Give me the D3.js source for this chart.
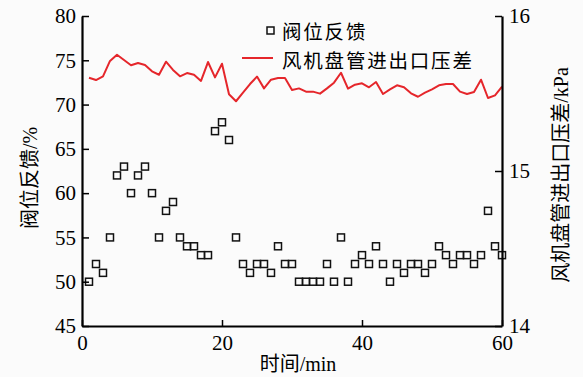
<!DOCTYPE html>
<html><head><meta charset="utf-8">
<script src="https://cdn.jsdelivr.net/npm/d3@7"></script>
<style>
html,body{margin:0;padding:0;background:#fbfbfb;}
svg{display:block;}
</style></head>
<body>
<svg id="c" width="583" height="377"></svg>
<script>
const minutes = d3.range(1, 61);
const valveFeedback = [50,52,51,55,62,63,60,62,63,60,55,58,59,55,54,54,53,53,67,68,66,55,52,51,52,52,51,54,52,52,
  50,50,50,50,52,50,55,50,52,53,52,54,52,50,52,51,52,52,51,52,54,53,52,53,53,52,53,58,54,53];
const pressureDiff = [15.602,15.587,15.611,15.710,15.750,15.716,15.682,15.697,15.684,15.643,15.621,15.705,15.652,15.611,15.632,15.621,15.581,15.703,15.604,15.692,
  15.495,15.450,15.505,15.561,15.609,15.533,15.589,15.600,15.600,15.523,15.533,15.512,15.512,15.499,15.533,15.570,15.634,15.531,15.557,15.566,
  15.540,15.574,15.497,15.527,15.553,15.540,15.501,15.479,15.505,15.527,15.553,15.561,15.561,15.512,15.497,15.510,15.589,15.471,15.488,15.544];
const xTicks = [0,20,40,60];
const yLeftTicks = [45,50,55,60,65,70,75,80];
const yRightTicks = [14,15,16];
const legendLabels = ["阀位反馈","风机盘管进出口压差"];

const svg = d3.select("#c");
const L = 82, R = 502, T = 16, B = 326;
const x = d3.scaleLinear().domain([0,60]).range([L,R]);
const yL = d3.scaleLinear().domain([45,80]).range([B,T]);
const yR = d3.scaleLinear().domain([14,16]).range([B,T]);
const numFont = "'Liberation Serif','Times New Roman',serif";
const cjkFont = "'Liberation Serif','Noto Sans CJK SC',serif";

// line
svg.append("path")
  .datum(minutes.map((m,i)=>[m,pressureDiff[i]]))
  .attr("fill","none").attr("stroke","#e5262b").attr("stroke-width",2)
  .attr("stroke-linejoin","round")
  .attr("d", d3.line().x(d=>x(d[0])).y(d=>yR(d[1])));

// squares
svg.append("g").selectAll("rect").data(minutes.map((m,i)=>[m,valveFeedback[i]])).join("rect")
  .attr("x",d=>x(d[0])-3.5).attr("y",d=>yL(d[1])-3.5)
  .attr("width",7).attr("height",7)
  .attr("fill","none").attr("stroke","#111").attr("stroke-width",1.5);

function style(g){
  g.select(".domain").attr("stroke","#000").attr("stroke-width",2.2);
  g.selectAll(".tick line").attr("stroke","#000").attr("stroke-width",1.5);
  g.selectAll(".tick text").attr("font-family",numFont).attr("font-size",21).attr("fill","#000");
}
// axes
const gx = svg.append("g").attr("transform",`translate(0,${B})`)
  .call(d3.axisBottom(x).tickValues(xTicks).tickSizeInner(-6).tickSizeOuter(0).tickPadding(9).tickFormat(d3.format("d")));
style(gx);
const gl = svg.append("g").attr("transform",`translate(${L},0)`)
  .call(d3.axisLeft(yL).tickValues(yLeftTicks).tickSizeInner(-7).tickSizeOuter(0).tickPadding(6).tickFormat(d3.format("d")));
style(gl);
const gr = svg.append("g").attr("transform",`translate(${R},0)`)
  .call(d3.axisRight(yR).tickValues(yRightTicks).tickSizeInner(-7).tickSizeOuter(0).tickPadding(7).tickFormat(d3.format("d")));
style(gr);

// axis titles
svg.append("text").attr("x",298).attr("y",371).attr("text-anchor","middle")
  .attr("font-family",cjkFont).attr("font-size",20).attr("fill","#000").text("时间/min");
svg.append("text").attr("transform","translate(30,178) rotate(-90)").attr("text-anchor","middle")
  .attr("dominant-baseline","central")
  .attr("font-family",cjkFont).attr("font-size",20).attr("fill","#000").text("阀位反馈/%");
svg.append("text").attr("transform","translate(561,175) rotate(-90)").attr("text-anchor","middle")
  .attr("dominant-baseline","central")
  .attr("font-family",cjkFont).attr("font-size",20).attr("fill","#000").text("风机盘管进出口压差/kPa");

// legend
const lg = svg.append("g");
lg.append("rect").attr("x",267).attr("y",27).attr("width",7).attr("height",7)
  .attr("fill","none").attr("stroke","#111").attr("stroke-width",1.5);
lg.append("line").attr("x1",242).attr("x2",273).attr("y1",58).attr("y2",58)
  .attr("stroke","#e5262b").attr("stroke-width",2);
legendLabels.forEach((t,i)=>{
  lg.append("text").attr("x",282).attr("y",30+i*29).attr("dominant-baseline","central")
    .attr("font-family","'Noto Sans CJK SC',sans-serif").attr("font-size",19.5)
    .attr("letter-spacing",1.8).attr("fill","#000").text(t);
});
</script>
</body></html>
